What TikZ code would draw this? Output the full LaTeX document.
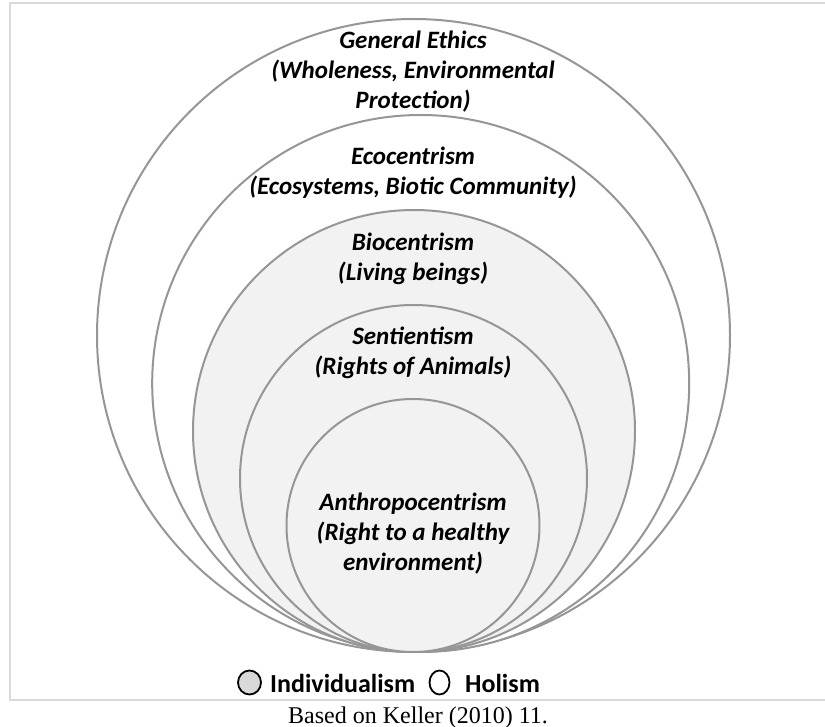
\documentclass[tikz,border=0pt]{standalone}
\usepackage{fontspec}
\setmainfont{Carlito}
\newfontfamily\capfont{Liberation Serif}
\definecolor{ringline}{RGB}{150,150,150}
\definecolor{ringfill}{RGB}{242,242,242}
\definecolor{framec}{RGB}{217,217,217}
\definecolor{legfill}{RGB}{217,217,217}
\tikzset{
  ring/.style={draw=ringline, line width=2pt},
  lab/.style={font=\bfseries\itshape\fontsize{25}{30}\selectfont, align=center, inner sep=0pt, text=black},
  legtext/.style={font=\bfseries\fontsize{26}{30}\selectfont, inner sep=0pt, anchor=base west},
  legmark/.style={draw=black, line width=1.8pt},
}
\begin{document}
\begin{tikzpicture}[x=1pt,y=-1pt]
\useasboundingbox (0,0) rectangle (825,727);
% frame
\draw[framec, line width=2pt] (826,3) -- (10,3) -- (10,700) -- (826,700);
% rings
\fill[white] (413.5,335.5) circle[radius=316.5pt];
\draw[ring] (413.5,335.5) circle[radius=316.5pt];
\draw[ring, fill=white] (420.7,383.5) circle[radius=268.5pt];
\draw[ring, fill=ringfill] (414,431) circle[radius=221pt];
\draw[ring, fill=ringfill] (413.5,478.5) circle[radius=173.5pt];
\draw[ring, fill=ringfill] (413,525.5) circle[radius=126.5pt];
% labels
\node[lab] (general) at (413,72) {General Ethics\\(Wholeness, Environmental\\Protection)};
\node[lab] (eco) at (413,172.5) {Ecocentrism\\(Ecosystems, Biotic Community)};
\node[lab] (bio) at (413,258.5) {Biocentrism\\(Living beings)};
\node[lab] (sent) at (413,353) {Sentientism\\(Rights of Animals)};
\node[lab] (anthro) at (413,534) {Anthropocentrism\\(Right to a healthy\\environment)};
% legend
\draw[legmark, fill=legfill] (249.5,682.5) ellipse[x radius=11.5pt, y radius=12pt];
\node[legtext] (indiv) at (270,692) {Individualism};
\draw[legmark, fill=white] (439.5,682.5) ellipse[x radius=10pt, y radius=12pt];
\node[legtext] (holism) at (465,692) {Holism};
% caption
\node[font=\capfont\fontsize{24}{28}\selectfont, inner sep=0pt, anchor=base west] (cap) at (288,723) {Based on Keller (2010) 11.};
\end{tikzpicture}
\end{document}
